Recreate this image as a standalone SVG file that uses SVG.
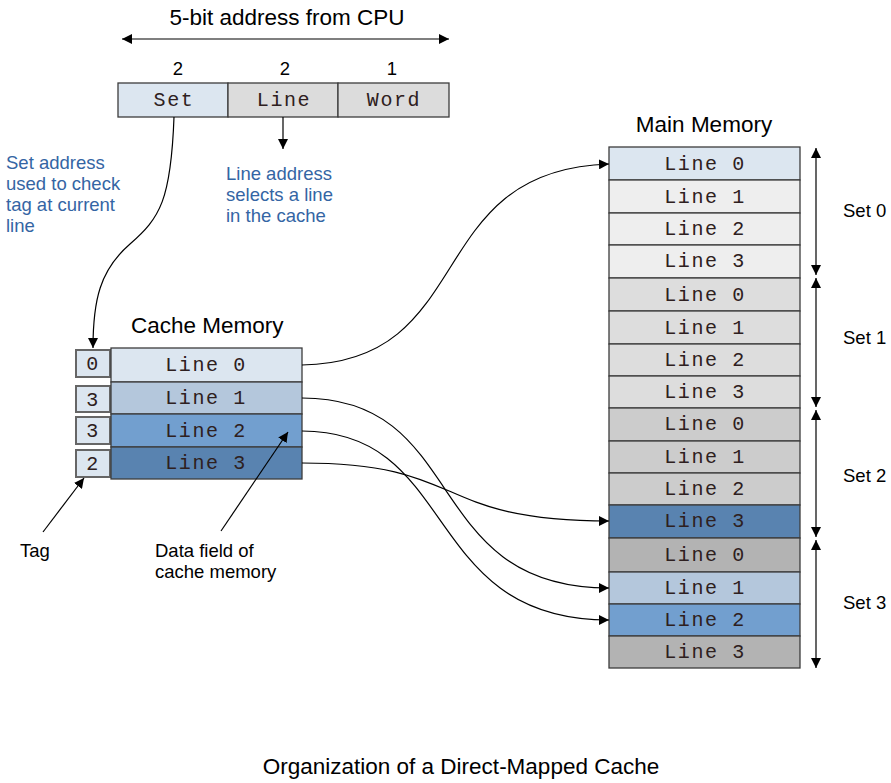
<svg xmlns="http://www.w3.org/2000/svg" width="891" height="783" viewBox="0 0 891 783">
<style>
.sans{font-family:"Liberation Sans",Arial,sans-serif;fill:#000}
.big{font-size:22.5px}
.mid{font-size:18.5px}
.blue{font-family:"Liberation Sans",Arial,sans-serif;fill:#3465a4;font-size:18.5px}
.mono{font-family:"Liberation Mono","Courier New",monospace;font-size:20px;letter-spacing:1.6px;fill:#2e2020;text-anchor:middle}
.cell{stroke:#3c3c3c;stroke-width:1.3}
.tag{fill:#dce6f0;stroke:#666;stroke-width:2}
.ln{fill:none;stroke:#000;stroke-width:1.2}
</style>
<defs>
<marker id="ah" viewBox="0 0 10 10" refX="10" refY="5" markerWidth="10" markerHeight="10" markerUnits="userSpaceOnUse" orient="auto-start-reverse">
<path d="M0,0 L10,5 L0,10 z" fill="#000"/>
</marker>
</defs>
<rect width="891" height="783" fill="#fff"/>

<g id="address">
<text class="sans big" x="287" y="25" text-anchor="middle">5-bit address from CPU</text>
<text class="sans mid" x="178" y="75" text-anchor="middle">2</text>
<text class="sans mid" x="285" y="75" text-anchor="middle">2</text>
<text class="sans mid" x="392" y="75" text-anchor="middle">1</text>
<rect class="cell" x="118" y="83" width="110" height="34" fill="#dce6f0"/>
<rect class="cell" x="228" y="83" width="110" height="34" fill="#dcdcdc"/>
<rect class="cell" x="338" y="83" width="111" height="34" fill="#dcdcdc"/>
<text class="mono" x="174" y="106">Set</text>
<text class="mono" x="284" y="106">Line</text>
<text class="mono" x="394" y="106">Word</text>
</g>

<g id="labels">
<text class="blue" x="6" y="169">Set address</text>
<text class="blue" x="6" y="190">used to check</text>
<text class="blue" x="6" y="211">tag at current</text>
<text class="blue" x="6" y="232">line</text>
<text class="blue" x="226" y="180">Line address</text>
<text class="blue" x="226" y="201">selects a line</text>
<text class="blue" x="226" y="222">in the cache</text>
<text class="sans mid" x="20" y="557">Tag</text>
<text class="sans mid" x="155" y="557">Data field of</text>
<text class="sans mid" x="155" y="578">cache memory</text>
<text class="sans big" x="461" y="774" text-anchor="middle">Organization of a Direct-Mapped Cache</text>
</g>

<g id="cache">
<text class="sans big" x="131" y="333">Cache Memory</text>
<rect class="tag" x="76" y="350" width="34" height="27"/>
<rect class="tag" x="76" y="386" width="34" height="26"/>
<rect class="tag" x="76" y="417" width="34" height="27"/>
<rect class="tag" x="76" y="450" width="34" height="27"/>
<text class="mono" x="93" y="370" letter-spacing="0">0</text>
<text class="mono" x="93" y="406" letter-spacing="0">3</text>
<text class="mono" x="93" y="437" letter-spacing="0">3</text>
<text class="mono" x="93" y="470" letter-spacing="0">2</text>
<rect class="cell" x="111" y="348" width="191" height="34" fill="#dce6f0"/>
<rect class="cell" x="111" y="382" width="191" height="32" fill="#b4c7dc"/>
<rect class="cell" x="111" y="414" width="191" height="33" fill="#729fcf"/>
<rect class="cell" x="111" y="447" width="191" height="32" fill="#5983b0"/>
<text class="mono" x="206" y="371">Line 0</text>
<text class="mono" x="206" y="404">Line 1</text>
<text class="mono" x="206" y="437">Line 2</text>
<text class="mono" x="206" y="469">Line 3</text>
</g>

<g id="main-memory">
<text class="sans big" x="704" y="132" text-anchor="middle">Main Memory</text>
<rect class="cell" x="609" y="147" width="191" height="33" fill="#dce6f0"/>
<rect class="cell" x="609" y="180" width="191" height="33" fill="#eeeeee"/>
<rect class="cell" x="609" y="213" width="191" height="32" fill="#eeeeee"/>
<rect class="cell" x="609" y="245" width="191" height="33" fill="#eeeeee"/>
<rect class="cell" x="609" y="278" width="191" height="33" fill="#dddddd"/>
<rect class="cell" x="609" y="311" width="191" height="33" fill="#dddddd"/>
<rect class="cell" x="609" y="344" width="191" height="32" fill="#dddddd"/>
<rect class="cell" x="609" y="376" width="191" height="32" fill="#dddddd"/>
<rect class="cell" x="609" y="408" width="191" height="33" fill="#cccccc"/>
<rect class="cell" x="609" y="441" width="191" height="32" fill="#cccccc"/>
<rect class="cell" x="609" y="473" width="191" height="32" fill="#cccccc"/>
<rect class="cell" x="609" y="505" width="191" height="33" fill="#5983b0"/>
<rect class="cell" x="609" y="538" width="191" height="34" fill="#b3b3b3"/>
<rect class="cell" x="609" y="572" width="191" height="32" fill="#b4c7dc"/>
<rect class="cell" x="609" y="604" width="191" height="32" fill="#729fcf"/>
<rect class="cell" x="609" y="636" width="191" height="32" fill="#b3b3b3"/>
<text class="mono" x="705" y="170">Line 0</text>
<text class="mono" x="705" y="203">Line 1</text>
<text class="mono" x="705" y="235">Line 2</text>
<text class="mono" x="705" y="267">Line 3</text>
<text class="mono" x="705" y="301">Line 0</text>
<text class="mono" x="705" y="334">Line 1</text>
<text class="mono" x="705" y="366">Line 2</text>
<text class="mono" x="705" y="398">Line 3</text>
<text class="mono" x="705" y="430">Line 0</text>
<text class="mono" x="705" y="463">Line 1</text>
<text class="mono" x="705" y="495">Line 2</text>
<text class="mono" x="705" y="527">Line 3</text>
<text class="mono" x="705" y="561">Line 0</text>
<text class="mono" x="705" y="594">Line 1</text>
<text class="mono" x="705" y="626">Line 2</text>
<text class="mono" x="705" y="658">Line 3</text>
<text class="sans mid" x="843" y="217">Set 0</text>
<text class="sans mid" x="843" y="344">Set 1</text>
<text class="sans mid" x="843" y="482">Set 2</text>
<text class="sans mid" x="843" y="609">Set 3</text>
</g>

<g id="connectors">
<line class="ln" x1="122" y1="39" x2="449" y2="39" marker-start="url(#ah)" marker-end="url(#ah)"/>
<line class="ln" x1="816" y1="148" x2="816" y2="275" marker-start="url(#ah)" marker-end="url(#ah)"/>
<line class="ln" x1="816" y1="278" x2="816" y2="407" marker-start="url(#ah)" marker-end="url(#ah)"/>
<line class="ln" x1="816" y1="410" x2="816" y2="537" marker-start="url(#ah)" marker-end="url(#ah)"/>
<line class="ln" x1="816" y1="540" x2="816" y2="668" marker-start="url(#ah)" marker-end="url(#ah)"/>
<line class="ln" x1="283" y1="117" x2="283" y2="149" marker-end="url(#ah)"/>
<path class="ln" d="M174,117 C171,200 160,218 130,244 C100,270 93,300 93,348" marker-end="url(#ah)"/>
<path class="ln" d="M302,365 C480,362 420,170 609,164" marker-end="url(#ah)"/>
<path class="ln" d="M302,398 C470,398 420,588 609,588" marker-end="url(#ah)"/>
<path class="ln" d="M302,431 C460,431 420,620 609,620" marker-end="url(#ah)"/>
<path class="ln" d="M302,463 C470,463 430,521 609,521" marker-end="url(#ah)"/>
<line class="ln" x1="43" y1="532" x2="84" y2="478" marker-end="url(#ah)"/>
<line class="ln" x1="221" y1="531" x2="288" y2="432" marker-end="url(#ah)"/>
</g>
</svg>
